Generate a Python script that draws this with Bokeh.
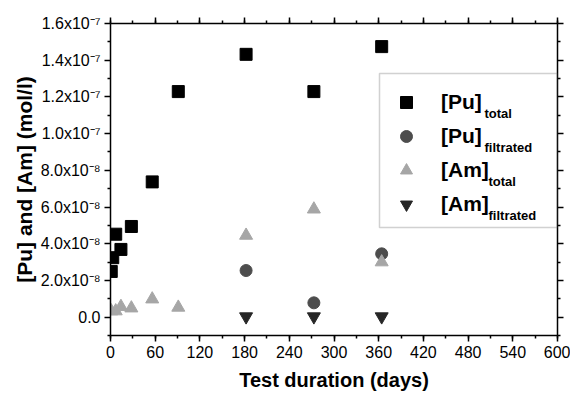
from bokeh.plotting import figure
from bokeh.models import (Range1d, LinearAxis, SingleIntervalTicker, FixedTicker, Label, Legend,
                          LegendItem, BoxAnnotation, CustomJSTickFormatter)
from bokeh.core.properties import value
from bokeh.embed import file_html
from bokeh.resources import INLINE

# ---------------- data ----------------
pu_total_days = [1, 3, 7, 14, 28, 56, 91, 182, 273, 364]
pu_total = [2.49e-8, 3.24e-8, 4.52e-8, 3.69e-8, 4.94e-8, 7.37e-8, 12.29e-8, 14.32e-8, 12.29e-8, 14.74e-8]

pu_filt_days = [182, 273, 364]
pu_filt = [2.54e-8, 0.78e-8, 3.45e-8]

am_total_days = [1, 7, 14, 28, 56, 91, 182, 273, 364]
am_total = [0.33e-8, 0.33e-8, 0.57e-8, 0.49e-8, 0.98e-8, 0.53e-8, 4.45e-8, 5.88e-8, 3.0e-8]

am_filt_days = [182, 273, 364]
am_filt = [0.03e-8, 0.03e-8, 0.03e-8]

y_tick_values = [0.0, 2e-8, 4e-8, 6e-8, 8e-8, 1e-7, 1.2e-7, 1.4e-7, 1.6e-7]
y_minor_values = [-1e-8, 1e-8, 3e-8, 5e-8, 7e-8, 9e-8, 1.1e-7, 1.3e-7, 1.5e-7]
y_tick_mantissa = ["0.0", "2.0x10", "4.0x10", "6.0x10", "8.0x10", "1.0x10", "1.2x10", "1.4x10", "1.6x10"]
y_tick_exponent = ["", "\u207b\u2078", "\u207b\u2078", "\u207b\u2078", "\u207b\u2078",
                   "\u207b\u2077", "\u207b\u2077", "\u207b\u2077", "\u207b\u2077"]

legend_main = ["[Pu]", "[Pu]", "[Am]", "[Am]"]
legend_sub = ["total", "filtrated", "total", "filtrated"]

FONT = "Liberation Sans"
FRAME_BOTTOM = 335  # canvas px, used for screen-unit annotations

p = figure(width=570, height=396, output_backend="svg", toolbar_location=None,
           x_range=Range1d(0, 600), y_range=Range1d(-1e-8, 1.6e-7),
           min_border_left=110, min_border_right=13, min_border_top=23, min_border_bottom=61)
p.outline_line_color = None
p.xgrid.visible = False
p.ygrid.visible = False
p.background_fill_color = "white"
p.border_fill_color = "white"

blank = CustomJSTickFormatter(code="return ''")


def style_axis(ax):
    ax.axis_line_color = "black"
    ax.axis_line_width = 1.5
    ax.major_tick_line_color = "black"
    ax.major_tick_line_width = 1.5
    ax.minor_tick_line_color = "black"
    ax.minor_tick_line_width = 1.5
    ax.major_tick_in = 0
    ax.major_tick_out = 6
    ax.minor_tick_in = 0
    ax.minor_tick_out = 3


xax = p.xaxis[0]
xax.ticker = SingleIntervalTicker(interval=60, num_minor_ticks=2)
style_axis(xax)
xax.major_label_text_font = FONT
xax.major_label_text_font_size = "16px"
xax.major_label_text_color = "black"
xax.major_label_standoff = 4
xax.axis_label = "Test duration (days)"
xax.axis_label_text_font = FONT
xax.axis_label_text_font_style = "bold"
xax.axis_label_text_font_size = "20px"
xax.axis_label_text_color = "black"
xax.axis_label_standoff = 8

yax = p.yaxis[0]
yax.ticker = FixedTicker(ticks=y_tick_values, minor_ticks=y_minor_values)
style_axis(yax)
yax.major_label_overrides = {v: m + e for v, m, e in
                             zip(y_tick_values, y_tick_mantissa, y_tick_exponent)}
yax.major_label_text_font = FONT
yax.major_label_text_font_size = "16px"
yax.major_label_text_color = "black"
yax.major_label_standoff = 4
yax.axis_label = "[Pu] and [Am] (mol/l)"
yax.axis_label_text_font = FONT
yax.axis_label_text_font_style = "bold"
yax.axis_label_text_font_size = "21px"
yax.axis_label_text_color = "black"
yax.axis_label_standoff = 2

top = LinearAxis(ticker=SingleIntervalTicker(interval=60, num_minor_ticks=2), formatter=blank)
style_axis(top)
p.add_layout(top, "above")
right = LinearAxis(ticker=FixedTicker(ticks=y_tick_values, minor_ticks=y_minor_values),
                   formatter=blank)
style_axis(right)
p.add_layout(right, "right")

# data
r1 = p.scatter(pu_total_days, pu_total, marker="square", size=12,
               fill_color="black", line_color="black")
r2 = p.scatter(pu_filt_days, pu_filt, marker="circle", size=12,
               fill_color="#4d4d4d", line_color="#4d4d4d")
r3 = p.scatter(am_total_days, am_total, marker="triangle", size=13,
               fill_color="#a6a6a6", line_color="#a6a6a6")
r4 = p.scatter(am_filt_days, am_filt, marker="inverted_triangle", size=13,
               fill_color="#262626", line_color="#262626")

# legend frame
p.add_layout(BoxAnnotation(left=269, right=None, top=FRAME_BOTTOM - 73, bottom=FRAME_BOTTOM - 227,
                           left_units="screen", top_units="screen", bottom_units="screen",
                           fill_color=None, line_color="#666666", line_width=1.5))

legend = Legend(items=[LegendItem(label=value(t), renderers=[r]) for t, r in
                       zip(legend_main, [r1, r2, r3, r4])],
                location=(281, FRAME_BOTTOM - 221), orientation="vertical",
                glyph_width=30, glyph_height=34, spacing=0, padding=12, margin=0,
                label_standoff=20, label_text_font=FONT, label_text_font_style="bold",
                label_text_font_size="21px", label_height=34, label_text_color="black",
                border_line_color=None, background_fill_alpha=0)
p.add_layout(legend)

sub_x = [374, 374, 378, 378]
for i, (s, sx) in enumerate(zip(legend_sub, sub_x)):
    center = 102 + 34 * i
    p.add_layout(Label(x=sx, y=FRAME_BOTTOM - (center + 10.5), x_units="screen", y_units="screen",
                       text=s, text_align="left", text_baseline="alphabetic",
                       text_font=FONT, text_font_style="bold", text_font_size="13px",
                       text_color="black"))

open("out.html", "w").write(file_html(p, INLINE))
